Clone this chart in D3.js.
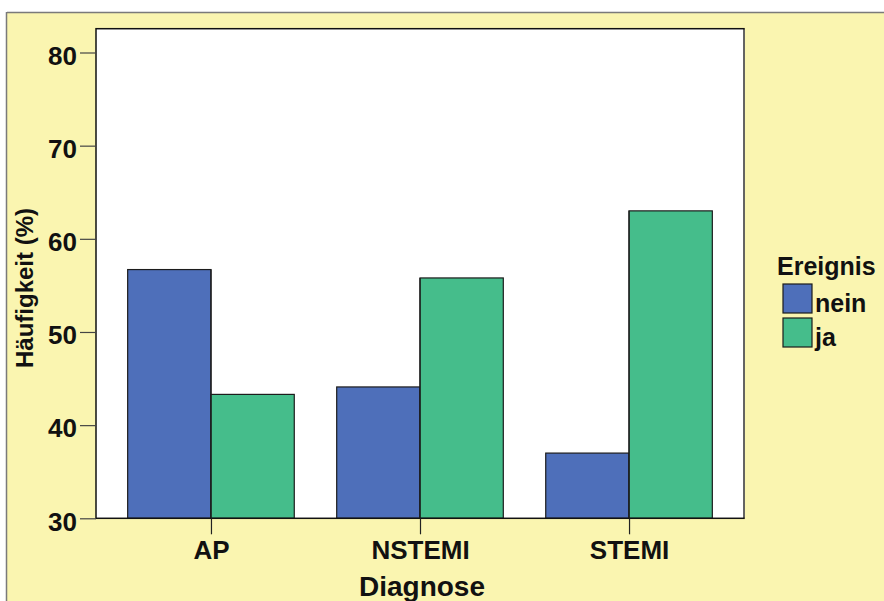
<!DOCTYPE html>
<html>
<head>
<meta charset="utf-8">
<script src="https://cdn.jsdelivr.net/npm/d3@7"></script>
<style>
  html, body { margin: 0; padding: 0; background: #ffffff; }
  svg { display: block; font-family: "Liberation Sans", Arial, sans-serif; font-weight: bold; }
</style>
</head>
<body>
<svg id="chart" width="884" height="601"></svg>
<script>
// Diagnosis categories and event shares (%)
const categories = ["AP", "NSTEMI", "STEMI"];
const seriesNames = ["nein", "ja"];
const neinValues = [56.7, 44.1, 37.0];
const jaValues = [43.3, 55.8, 63.0];
const yTicks = [30, 40, 50, 60, 70, 80];
const colors = ["#4e6fba", "#45bd8b"];

const rows = categories.map((c, i) => ({ cat: c, values: [neinValues[i], jaValues[i]] }));

const svg = d3.select("#chart");

// Panel background
svg.append("rect").attr("x", 7).attr("y", 13).attr("width", 884 - 7).attr("height", 601 - 13)
  .attr("fill", "#faf5b0");
svg.append("line").attr("x1", 7).attr("x2", 884).attr("y1", 12.5).attr("y2", 12.5)
  .attr("stroke", "#7a7a7a").attr("stroke-width", 1.5);
svg.append("line").attr("x1", 6.5).attr("x2", 6.5).attr("y1", 12).attr("y2", 601)
  .attr("stroke", "#7a7a7a").attr("stroke-width", 1.5);

const plot = { left: 96, right: 744, top: 28.7, bottom: 518.3 };

const y = d3.scaleLinear().domain([30, 80]).range([plot.bottom, 52.5]);
const x = d3.scalePoint().domain(categories).range([plot.left, plot.right]).padding(0.55);
const barW = 83.3;

// Plot area
svg.append("rect").attr("x", plot.left).attr("y", plot.top)
  .attr("width", plot.right - plot.left).attr("height", plot.bottom - plot.top)
  .attr("fill", "#ffffff");

// Bars: "nein" left of the category tick, "ja" right of it
const groups = svg.append("g").selectAll("g").data(rows).join("g");
groups.selectAll("rect").data(d => d.values.map((v, k) => ({ cat: d.cat, v, k })))
  .join("rect")
  .attr("x", d => x(d.cat) + (d.k === 0 ? -barW : 0))
  .attr("y", d => y(d.v))
  .attr("width", barW)
  .attr("height", d => y(30) - y(d.v))
  .attr("fill", d => colors[d.k])
  .attr("stroke", "#1c1c1c")
  .attr("stroke-width", 1.2);

// Plot frame
svg.append("rect").attr("x", plot.left).attr("y", plot.top)
  .attr("width", plot.right - plot.left).attr("height", plot.bottom - plot.top)
  .attr("fill", "none").attr("stroke", "#111").attr("stroke-width", 1.5);
svg.append("line").attr("x1", plot.right).attr("x2", plot.right)
  .attr("y1", plot.top + 1).attr("y2", plot.bottom - 1)
  .attr("stroke", "#6e6e6e").attr("stroke-width", 1.5);

// Y axis
const yAxis = svg.append("g").attr("transform", `translate(${plot.left},0)`)
  .call(d3.axisLeft(y).tickValues(yTicks).tickSize(16).tickPadding(3).tickFormat(d3.format("d")));
yAxis.select(".domain").remove();
yAxis.selectAll(".tick line").attr("stroke", "#444").attr("stroke-width", 1.2);
yAxis.selectAll(".tick text").attr("font-size", 26).attr("font-family", "Liberation Sans, Arial, sans-serif")
  .attr("font-weight", "bold").attr("fill", "#111").attr("dy", "0.45em");

// X axis
const xAxis = svg.append("g").attr("transform", `translate(0,${plot.bottom})`)
  .call(d3.axisBottom(x).tickSize(16).tickPadding(6));
xAxis.select(".domain").remove();
xAxis.selectAll(".tick line").attr("stroke", "#222").attr("stroke-width", 1.2);
xAxis.selectAll(".tick text").attr("font-size", 26).attr("font-family", "Liberation Sans, Arial, sans-serif")
  .attr("font-weight", "bold").attr("fill", "#111");

// Divider lines between the paired bars
svg.append("g").selectAll("line").data(categories).join("line")
  .attr("x1", d => x(d)).attr("x2", d => x(d))
  .attr("y1", (d, i) => y(Math.max(neinValues[i], jaValues[i])))
  .attr("y2", plot.bottom)
  .attr("stroke", "#1c1c1c").attr("stroke-width", 1.2);

// Axis titles
svg.append("text").attr("x", 422).attr("y", 596).attr("text-anchor", "middle")
  .attr("font-size", 28).attr("fill", "#111").text("Diagnose");
svg.append("text").attr("transform", "translate(33,288) rotate(-90)").attr("text-anchor", "middle")
  .attr("font-size", 24).attr("fill", "#111").text("Häufigkeit (%)");

// Legend
const legend = svg.append("g");
legend.append("text").attr("x", 777).attr("y", 275).attr("font-size", 25).attr("fill", "#111").text("Ereignis");
const items = legend.selectAll("g.item").data(seriesNames).join("g").attr("class", "item")
  .attr("transform", (d, i) => `translate(783,${284 + i * 34})`);
items.append("rect").attr("width", 29).attr("height", 29)
  .attr("fill", (d, i) => colors[i]).attr("stroke", "#1c1c1c").attr("stroke-width", 1.2);
items.append("text").attr("x", 32).attr("y", 28).attr("font-size", 25).attr("fill", "#111").text(d => d);
</script>
</body>
</html>
